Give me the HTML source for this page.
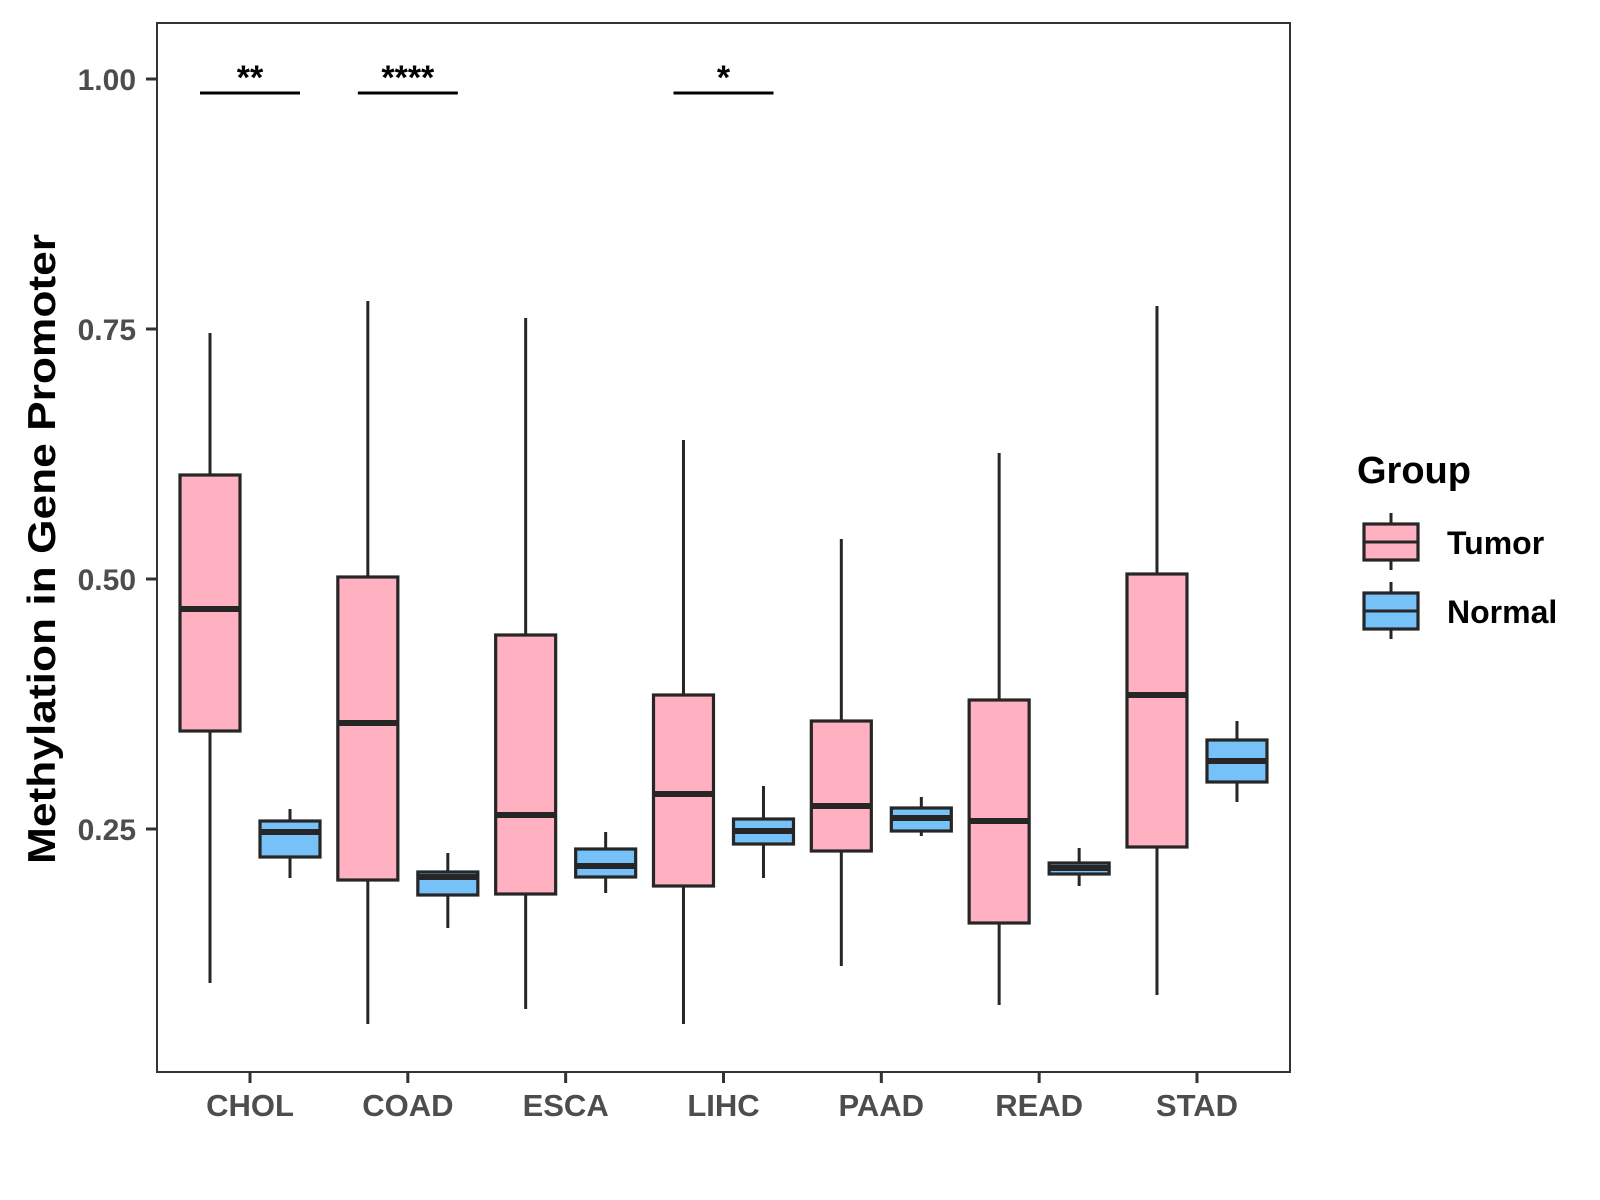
<!DOCTYPE html>
<html><head><meta charset="utf-8"><style>
html,body{margin:0;padding:0;background:#fff;}
svg{display:block;font-family:"Liberation Sans",Arial,sans-serif;}
</style></head><body>
<svg id="chart" width="1600" height="1200" viewBox="0 0 1600 1200">
<rect x="0" y="0" width="1600" height="1200" fill="#fff"/>
<rect x="157" y="23" width="1133" height="1049" fill="none" stroke="#333" stroke-width="2"/>
<g id="marks"></g>
<g id="axes"></g>
<text x="55" y="549" transform="rotate(-90 55 549)" text-anchor="middle" font-size="39" font-weight="bold" fill="#000" textLength="630" lengthAdjust="spacingAndGlyphs">Methylation in Gene Promoter</text>
<g>
<text x="1357" y="483" font-size="38" font-weight="bold" fill="#000">Group</text>
<g>
<line x1="1391" y1="513" x2="1391" y2="570" stroke="#262626" stroke-width="3"/>
<rect x="1364" y="524" width="54" height="36" fill="#FFB1C2" stroke="#262626" stroke-width="3.2"/>
<line x1="1364" y1="542" x2="1418" y2="542" stroke="#262626" stroke-width="3"/>
<text x="1447" y="554" font-size="32" font-weight="bold" fill="#000">Tumor</text>
</g>
<g>
<line x1="1391" y1="582" x2="1391" y2="639" stroke="#262626" stroke-width="3"/>
<rect x="1364" y="593" width="54" height="36" fill="#75C1F8" stroke="#262626" stroke-width="3.2"/>
<line x1="1364" y1="611" x2="1418" y2="611" stroke="#262626" stroke-width="3"/>
<text x="1447" y="623" font-size="32" font-weight="bold" fill="#000">Normal</text>
</g>
</g>
</svg>
<script>
const categories = ["CHOL","COAD","ESCA","LIHC","PAAD","READ","STAD"];
// [low, q1, median, q3, high]
const tumorStats = [
 [0.096,0.348,0.470,0.604,0.746],
 [0.055,0.199,0.356,0.502,0.778],
 [0.070,0.185,0.264,0.444,0.761],
 [0.055,0.193,0.285,0.384,0.639],
 [0.113,0.228,0.273,0.358,0.540],
 [0.074,0.156,0.258,0.379,0.626],
 [0.084,0.232,0.384,0.505,0.773]
];
const normalStats = [
 [0.201,0.222,0.247,0.258,0.270],
 [0.151,0.184,0.202,0.207,0.226],
 [0.186,0.202,0.213,0.230,0.247],
 [0.201,0.235,0.248,0.260,0.293],
 [0.243,0.248,0.261,0.271,0.282],
 [0.193,0.205,0.211,0.216,0.231],
 [0.277,0.297,0.318,0.339,0.358]
];
const yTicks = [0.25,0.50,0.75,1.00];
const yTickLabels = ["0.25","0.50","0.75","1.00"];
const sigCategories = ["CHOL","COAD","LIHC"];
const sigLabels = ["**","****","*"];
const sigLevel = 0.986;

const NS="http://www.w3.org/2000/svg";
function yScale(v){return 79+(1-v)*1000;}
function xScale(i){return 250+i*157.83;}
function mk(tag,attrs,parent){const e=document.createElementNS(NS,tag);for(const k in attrs)e.setAttribute(k,attrs[k]);parent.appendChild(e);return e;}
const marks=document.getElementById('marks');
const axes=document.getElementById('axes');
const BW=60, OFF=40;
function drawBox(s,cx,fill,name){
  const g=mk('g',{},marks);
  
  
  mk('line',{x1:cx,x2:cx,y1:yScale(s[4]),y2:yScale(s[0]),stroke:'#262626','stroke-width':3},g);
  mk('rect',{x:cx-BW/2,y:yScale(s[3]),width:BW,height:yScale(s[1])-yScale(s[3]),fill:fill,stroke:'#262626','stroke-width':3.2},g);
  mk('line',{x1:cx-BW/2,x2:cx+BW/2,y1:yScale(s[2]),y2:yScale(s[2]),stroke:'#262626','stroke-width':6},g);
}
categories.forEach((c,i)=>{
  drawBox(tumorStats[i],xScale(i)-OFF,'#FFB1C2','box-tumor-'+c.toLowerCase());
  drawBox(normalStats[i],xScale(i)+OFF,'#75C1F8','box-normal-'+c.toLowerCase());
  const t=mk('line',{x1:xScale(i),x2:xScale(i),y1:1072,y2:1083,stroke:'#333','stroke-width':3},axes);
  
  
  const l=mk('text',{x:xScale(i),y:1116,'text-anchor':'middle','font-size':31,'font-weight':'bold',fill:'#4d4d4d'},axes);
  
  
  l.textContent=c;
});
yTicks.forEach((v,i)=>{
  const t=mk('line',{x1:146,x2:157,y1:yScale(v),y2:yScale(v),stroke:'#333','stroke-width':3},axes);
  
  
  const l=mk('text',{x:136,y:yScale(v)+11,'text-anchor':'end','font-size':30,'font-weight':'bold',fill:'#4d4d4d'},axes);
  
  
  l.textContent=yTickLabels[i];
});
sigCategories.forEach((c,j)=>{
  const i=categories.indexOf(c);
  const b=mk('line',{x1:xScale(i)-50,x2:xScale(i)+50,y1:yScale(sigLevel),y2:yScale(sigLevel),stroke:'#000','stroke-width':3},marks);
  
  
  const s=mk('text',{x:xScale(i),y:yScale(sigLevel)-4,'text-anchor':'middle','font-size':34,'font-weight':'bold',fill:'#000'},marks);
  
  
  s.textContent=sigLabels[j];
});
</script>
</body></html>
